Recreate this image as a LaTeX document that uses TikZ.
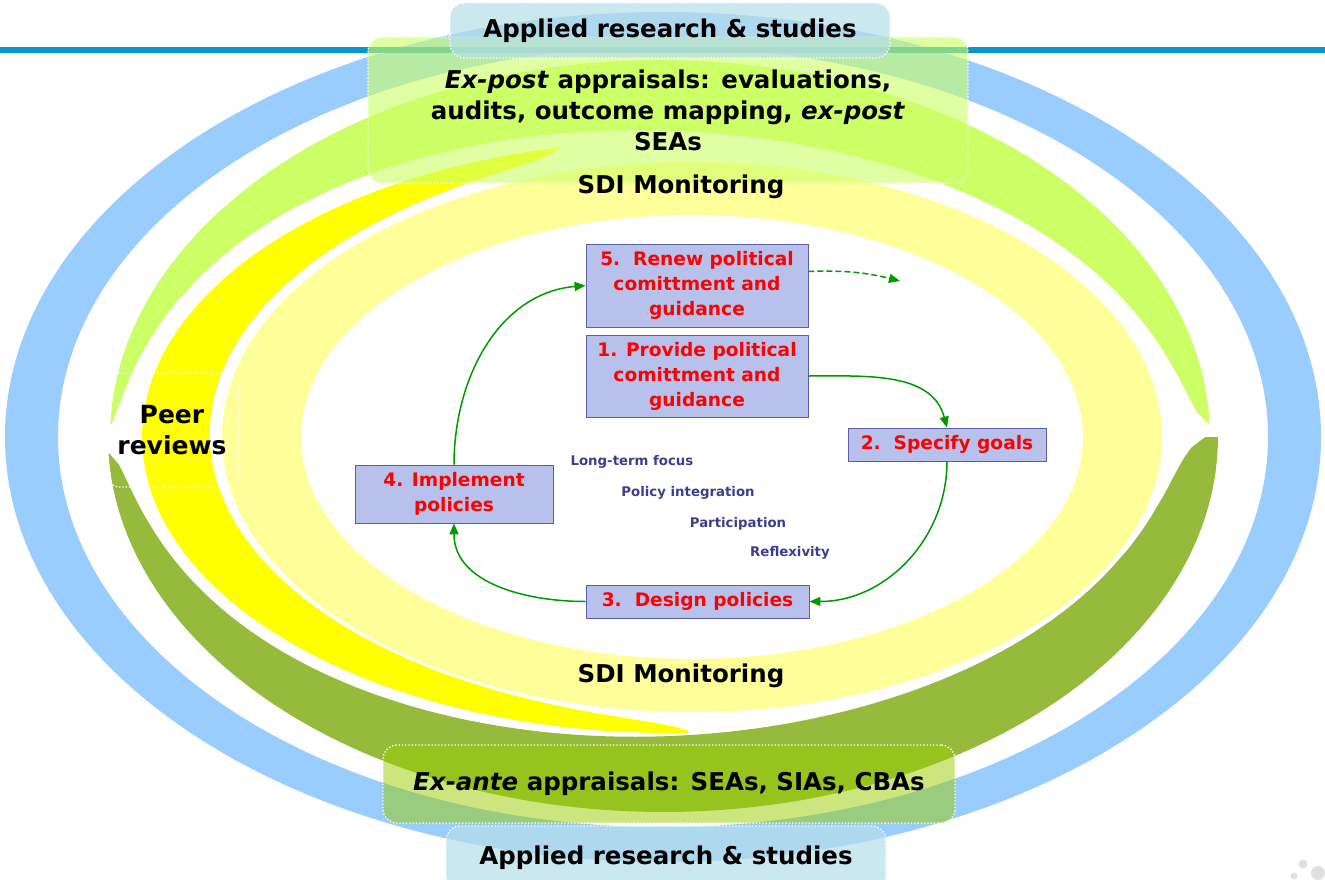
\documentclass[tikz,border=0pt]{standalone}
\usepackage{fontspec}
\setmainfont{DejaVu Sans}
\usetikzlibrary{arrows.meta}

\definecolor{ringblue}{HTML}{99CCFF}
\definecolor{ringlime}{HTML}{CCFF66}
\definecolor{ringolive}{HTML}{95BA3C}
\definecolor{ringyellow}{HTML}{FFFF00}
\definecolor{ringpale}{HTML}{FFFF99}
\definecolor{rulecyan}{HTML}{0A96CC}
\definecolor{boxfill}{HTML}{B8C1EC}
\definecolor{boxline}{HTML}{5A5EA8}
\definecolor{flowgreen}{HTML}{009900}
\definecolor{keynavy}{HTML}{3D3D8F}
\definecolor{studyfill}{HTML}{B7DEE8}
\definecolor{expostfill}{HTML}{CCFF66}
\definecolor{exantefill}{HTML}{99CC00}

% thickness profile of a band, zero at both ends (uses \bandq and \bandp)
\newcommand{\bandw}[2]{(pow(abs(sin(180*pow(max((\x-#1)/(#2-#1),0.001),\bandq)))+0.0001,\bandp))}
% \band{colour}{cx}{cy}{rx}{ry}{from}{to}{width x}{width y}
\newcommand{\band}[9]{%
  \fill[#1] plot[domain=#6:#7, samples=100] ({#2+#4*cos(\x)},{-(#3+#5*sin(\x))})
    -- plot[domain=#7:#6, samples=100] ({#2+(#4-#8*\bandw{#6}{#7})*cos(\x)},{-(#3+(#5-#9*\bandw{#6}{#7})*sin(\x))})
    -- cycle;}

\begin{document}
\begin{tikzpicture}[x=1pt, y=1pt,
    stage/.style={draw=boxline, fill=boxfill, line width=0.9pt, text=red,
        align=center, inner sep=0pt, font=\bfseries\fontsize{18.6}{25}\selectfont},
    panel/.style={draw=white, dotted, line width=1.3pt, rounded corners=14pt,
        align=center, inner sep=0pt, text opacity=1,
        font=\bfseries\fontsize{24.5}{31}\selectfont},
    ring label/.style={font=\bfseries\fontsize{24.5}{31}\selectfont},
    key/.style={text=keynavy, font=\bfseries\fontsize{13.3}{16}\selectfont},
    flow/.style={flowgreen, line width=1.5pt, -{Triangle[length=11pt,width=9pt]}},
]
\useasboundingbox (0,0) rectangle (1325,-880);
\clip (0,0) rectangle (1325,-880);

% rings, outside in
\fill[ringblue, even odd rule] (663,-437) ellipse [x radius=658, y radius=425]
    (663,-437) ellipse [x radius=605, y radius=390];
\def\bandp{0.5}
\def\bandq{0.64}
\band{ringolive}{663}{437}{555}{375}{0}{177.5}{65}{80}
\def\bandq{1.3}
\band{ringlime}{660}{437}{550}{377}{182}{358}{55}{72}
\def\bandq{1}
\band{ringyellow}{670}{437}{528}{296}{88}{258}{68}{38}
\fill[ringpale, even odd rule] (692,-437) ellipse [x radius=470, y radius=275]
    (692,-437) ellipse [x radius=391, y radius=222];

% header rule
\fill[rulecyan] (0,-47) rectangle (1325,-53);

% labels on the rings
\node[panel, fill=expostfill, fill opacity=0.6, minimum width=600pt, minimum height=146pt]
    (expost) at (668,-110) {\textit{Ex-post} appraisals: evaluations,\\audits, outcome mapping, \textit{ex-post}\\SEAs};
\node[panel, fill=studyfill, fill opacity=0.7, minimum width=440pt, minimum height=55pt]
    (studiestop) at (670,-30.5) {Applied research \& studies};
\node[panel, fill=exantefill, fill opacity=0.5, minimum width=572pt, minimum height=78pt]
    (exante) at (669,-784) {\textit{Ex-ante} appraisals: SEAs, SIAs, CBAs};
\node[panel, fill=studyfill, fill opacity=0.7, minimum width=440pt, minimum height=64pt]
    (studiesbottom) at (666,-858) {\raisebox{6pt}{Applied research \& studies}};
\node[panel, minimum width=133pt, minimum height=114pt, font=\bfseries\fontsize{25}{31}\selectfont]
    (peer) at (172,-430) {Peer\\reviews};
\node[ring label] (monitortop) at (681,-187) {SDI Monitoring};
\node[ring label] (monitorbottom) at (681,-676) {SDI Monitoring};

% policy cycle
\node[stage, minimum width=222pt, minimum height=83pt] (renew) at (697,-285.5)
    {5.~~Renew political\\comittment and\\guidance};
\node[stage, minimum width=222pt, minimum height=82pt] (provide) at (697,-376)
    {1. Provide political\\comittment and\\guidance};
\node[stage, minimum width=198pt, minimum height=33pt] (goals) at (947,-444.5)
    {2.~~Specify goals};
\node[stage, minimum width=223pt, minimum height=33pt] (design) at (697.5,-601.5)
    {3.~~Design policies};
\node[stage, minimum width=198pt, minimum height=58pt] (implement) at (454,-494)
    {4. Implement\\policies};

\node[key] (focus) at (632,-462) {Long-term focus};
\node[key] (integration) at (688,-493) {Policy integration};
\node[key] (participation) at (738,-524) {Participation};
\node[key] (reflexivity) at (790,-553) {Reflexivity};

\draw[flow] (provide.east) to[out=0, in=105] (goals.north);
\draw[flow] (goals.south) to[out=-90, in=0] (design.east);
\draw[flow] (design.west) to[out=180, in=-90] (implement.south);
\draw[flow] (implement.north) to[out=90, in=185] (renew.west);
\coordinate (onward) at (900,-281);
\draw[flow, dash pattern=on 6pt off 3pt] ([yshift=14pt]renew.east) to[bend left=8] (onward);

% corner logo
\fill[black!12] (1318,-873) circle (7) (1303,-864) circle (4.5) (1294,-876) circle (3.5);
\end{tikzpicture}
\end{document}
